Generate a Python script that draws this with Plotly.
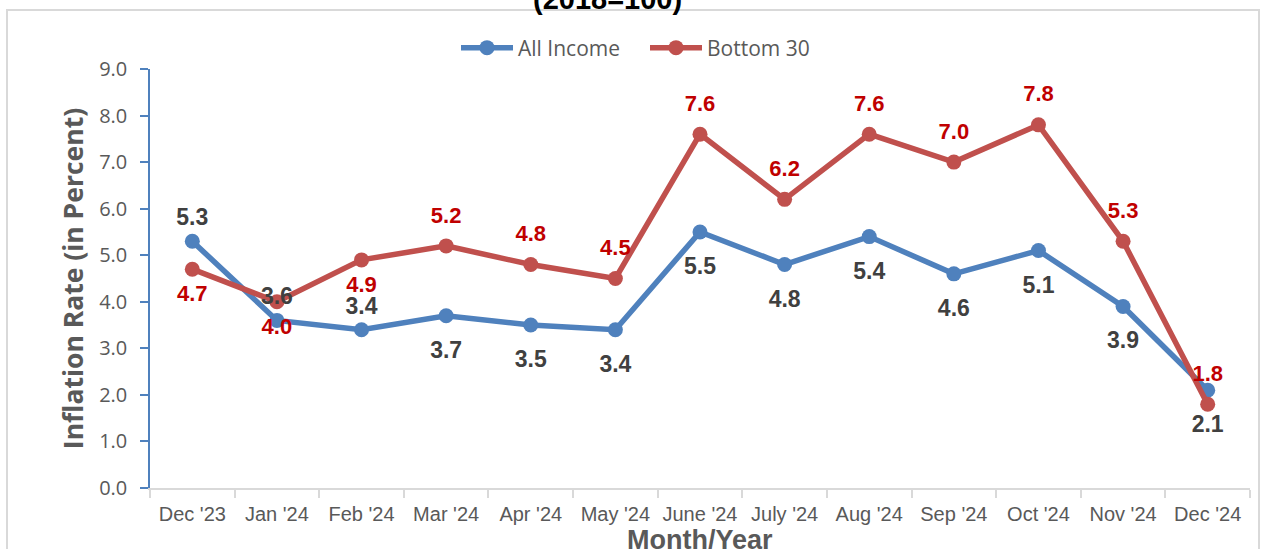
import plotly.graph_objects as go

months = ["Dec '23", "Jan '24", "Feb '24", "Mar '24", "Apr '24", "May '24", "June '24",
          "July '24", "Aug '24", "Sep '24", "Oct '24", "Nov '24", "Dec '24"]
all_income = [5.3, 3.6, 3.4, 3.7, 3.5, 3.4, 5.5, 4.8, 5.4, 4.6, 5.1, 3.9, 2.1]
bottom_30 = [4.7, 4.0, 4.9, 5.2, 4.8, 4.5, 7.6, 6.2, 7.6, 7.0, 7.8, 5.3, 1.8]
all_above = [True, True, True] + [False] * 10
bot_above = [False] * 3 + [True] * 10

W, H = 1261, 549
L, R, T, B = 150, 11, 69, 61
pw, ph = W - L - R, H - T - B

BLUE, RED = "#4F81BD", "#C0504D"

fig = go.Figure()
fig.add_trace(go.Scatter(
    x=months, y=all_income, name="All Income", mode="lines+markers",
    line=dict(color=BLUE, width=5.5), marker=dict(size=15, color=BLUE),
))
fig.add_trace(go.Scatter(
    x=months, y=bottom_30, name="Bottom 30", mode="lines+markers",
    line=dict(color=RED, width=5.5), marker=dict(size=15, color=RED),
))
# data labels (invisible marker sizes set the label distance from each point)
fig.add_trace(go.Scatter(
    x=months, y=all_income, mode="markers+text", showlegend=False, hoverinfo="skip",
    marker=dict(size=[15 if a else 38 for a in all_above], opacity=0),
    text=[f"{v:.1f}" for v in all_income],
    textposition=["top center" if a else "bottom center" for a in all_above],
    textfont=dict(family="Liberation Sans", size=23, color="#404040", weight="bold"),
))
fig.add_trace(go.Scatter(
    x=months, y=bottom_30, mode="markers+text", showlegend=False, hoverinfo="skip",
    marker=dict(size=[27 if a else 23 for a in bot_above], opacity=0),
    text=[f"{v:.1f}" for v in bottom_30],
    textposition=["top center" if a else "bottom center" for a in bot_above],
    textfont=dict(family="Liberation Sans", size=22, color="#C00000", weight="bold"),
))

fig.update_layout(
    width=W, height=H, margin=dict(l=L, r=R, t=T, b=B, autoexpand=False),
    paper_bgcolor="white", plot_bgcolor="white",
    showlegend=True,
    legend=dict(orientation="h", x=(456 - L) / pw, xanchor="left",
                y=1 + (69 - 48) / ph, yanchor="middle",
                font=dict(family="Open Sans", size=21, color="#595959"),
                itemwidth=52, entrywidth=122, entrywidthmode="pixels",
                traceorder="normal", bgcolor="rgba(0,0,0,0)"),
    xaxis=dict(
        type="category", showgrid=False, showline=True, linecolor="#D9D9D9", linewidth=2,
        ticks="outside", tickson="boundaries", tickcolor="#D9D9D9", ticklen=8, tickwidth=2,
        ticklabelstandoff=7, tickangle=0, automargin=False,
        tickfont=dict(family="Liberation Sans", size=20, color="#595959"),
        range=[-0.5, len(months) - 0.5],
    ),
    yaxis=dict(
        range=[0, 9], dtick=1, tickformat=".1f", showgrid=False, zeroline=False,
        showline=True, linecolor=BLUE, linewidth=1.5,
        ticks="outside", tickcolor=BLUE, ticklen=8, tickwidth=1.5,
        ticklabelstandoff=9, automargin=False,
        tickfont=dict(family="Open Sans", size=20, color="#595959"),
        title=dict(text="<b>Inflation Rate (in Percent)</b>", standoff=8,
                   font=dict(family="Open Sans", size=26.5, color="#595959")),
    ),
)

# x-axis title
fig.add_annotation(
    text="<b>Month/Year</b>", xref="paper", yref="paper", x=0.5, y=0,
    yshift=-(540 - (H - B)), showarrow=False, xanchor="center", yanchor="middle",
    font=dict(family="Liberation Sans", size=27, color="#595959"),
)
# chart title (cut at the top edge, as in the source)
fig.add_annotation(
    text="<b>(2018=100)</b>", xref="paper", yref="paper", x=(607 - L) / pw, y=1,
    yshift=T + 1, showarrow=False, xanchor="center", yanchor="middle",
    font=dict(family="Liberation Sans", size=29, color="#000000"),
)
fig.add_shape(
    type="rect", xref="paper", yref="paper",
    x0=(7 - L) / pw, x1=(1259 - L) / pw, y0=(H - T - 570) / ph, y1=1 + (T - 10) / ph,
    line=dict(color="#D9D9D9", width=2), fillcolor="rgba(0,0,0,0)", layer="below",
)

fig.write_html("out.html", config={"displayModeBar": False},
               post_script="document.body.style.margin='0';")
